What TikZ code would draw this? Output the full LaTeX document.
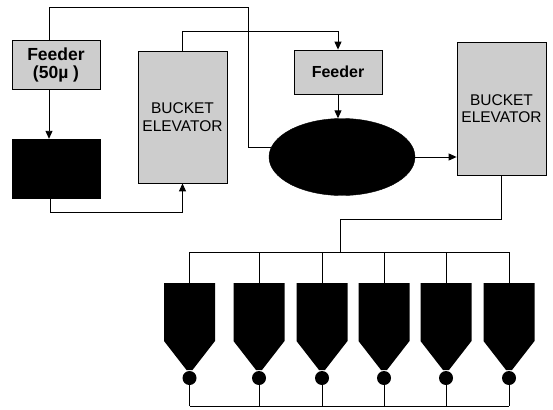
\documentclass[tikz,border=0pt]{standalone}
\usepackage{fontspec}
\setmainfont{Liberation Sans}
\usetikzlibrary{arrows.meta,shapes.geometric}
\definecolor{boxgray}{RGB}{205,205,205}
\begin{document}
\begin{tikzpicture}[x=1pt,y=-1pt,
  box/.style={draw=black,fill=boxgray,line width=0.8pt,inner sep=0pt,align=center},
  solid box/.style={draw=black,fill=black,inner sep=0pt},
  flow/.style={draw=black,line width=0.9pt},
  arr/.style={flow,-{Triangle[length=8pt,width=7pt]}},
  feedtxt/.style={font=\fontsize{16}{17}\selectfont\bfseries},
  betxt/.style={font=\fontsize{15.5}{17.5}\selectfont}]
\useasboundingbox (0,0) rectangle (553,409);

% process units
\node[box,feedtxt,font=\fontsize{17.5}{18}\selectfont\bfseries,minimum width=88pt,minimum height=49pt] (fa) at (56,64.5) {Feeder\\(50µ )};
\node[solid box,minimum width=88pt,minimum height=59pt] (mill) at (56,168.5) {};
\node[box,betxt,minimum width=89pt,minimum height=132pt] (be1) at (182.5,117) {BUCKET\\ELEVATOR};
\node[box,feedtxt,minimum width=88pt,minimum height=44pt] (fb) at (338,72) {Feeder};
\node[ellipse,draw=black,fill=black,inner sep=0pt,minimum width=146pt,minimum height=77pt] (ell) at (342,157) {};
\node[box,betxt,minimum width=89pt,minimum height=133pt] (be2) at (501.5,108.5) {BUCKET\\ELEVATOR};

% helper coordinates
\coordinate (topA) at (248,7);
\coordinate (turn) at (340,219);
\coordinate (split) at (340,252);
\coordinate (bl) at (0,406);

% silos
\foreach \i/\cx in {1/189.5,2/259,3/322,4/384,5/446,6/509} {
  \coordinate (top\i) at (\cx,283);
  \fill[black] (\cx-25.5,283) -- (\cx+25.5,283) -- (\cx+25.5,341) -- (\cx+3,370)
     -- (\cx-3,370) -- (\cx-25.5,341) -- cycle;
  \fill[black] (\cx,378) circle[radius=7pt];
  \coordinate (bot\i) at (\cx,384);
}

% connectors
\draw[arr] ([xshift=-7pt]fa.south) -- ([xshift=-7pt]fa.south |- mill.north);
\draw[flow] ([xshift=-7pt]fa.north) |- (topA) |- (ell.172);
\draw[arr] ([xshift=-6pt]mill.south) -- ++(0,14) -| (be1.south);
\draw[arr] (be1.north) -- ++(0,-19) -| (fb.north);
\draw[arr] (fb.south) -- (fb.south |- ell.north);
\draw[arr] (ell.east) -- (ell.east -| be2.west);
\draw[flow] (be2.south) |- (turn) -- (split);
\draw[flow] (top1 |- split) -- (top6 |- split);
\foreach \i in {1,...,6} {
  \draw[flow] (top\i |- split) -- (top\i);
  \draw[flow] (bot\i) -- (bot\i |- bl);
}
\draw[flow] (bot1 |- bl) -- (bot6 |- bl);
\end{tikzpicture}
\end{document}
